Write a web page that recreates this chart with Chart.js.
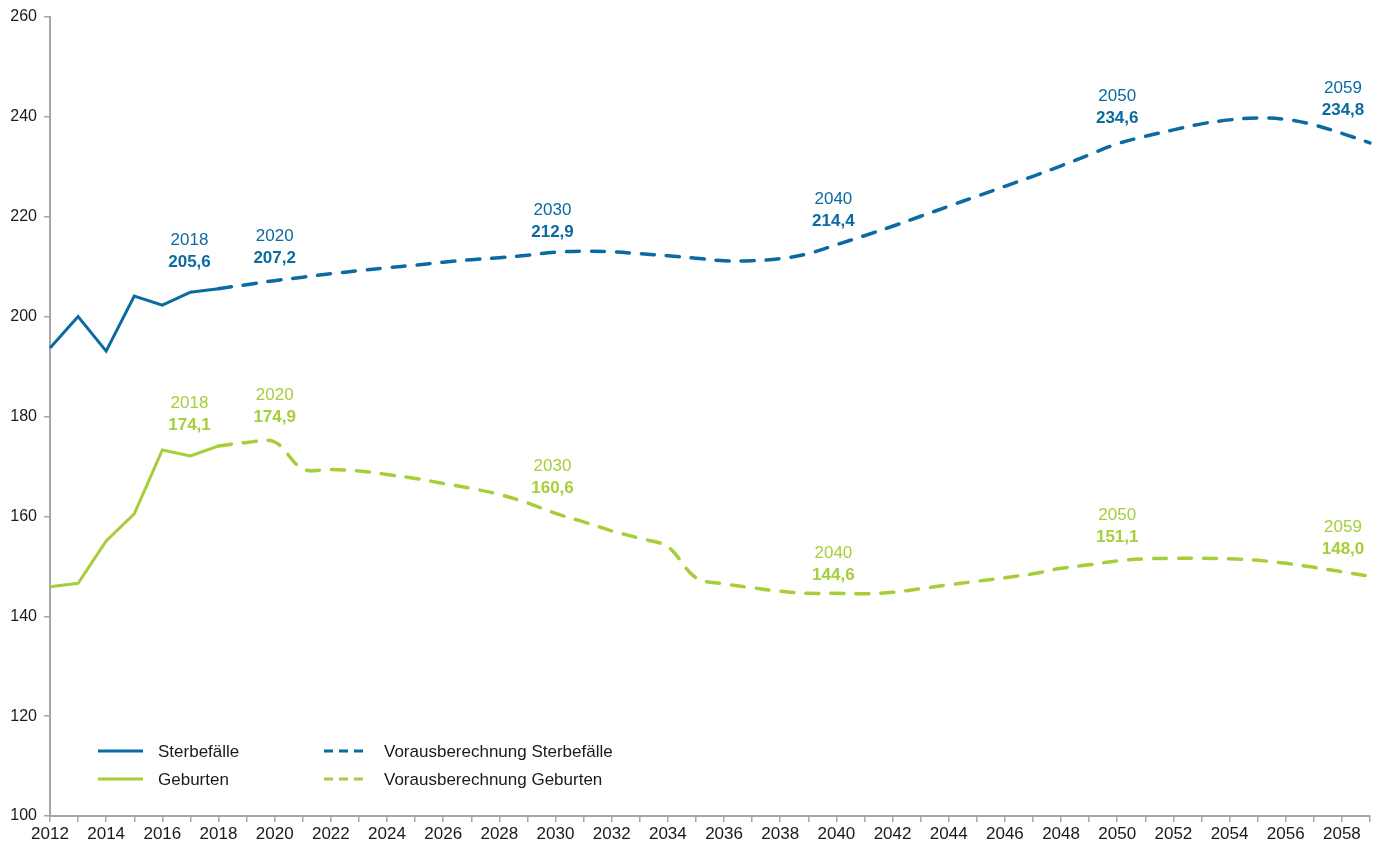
<!DOCTYPE html>
<html>
<head>
<meta charset="utf-8">
<script src="https://cdn.jsdelivr.net/npm/chart.js@4.4.1/dist/chart.umd.min.js"></script>
<style>
  html, body { margin: 0; padding: 0; background: #fff; }
  #wrap { width: 1383px; height: 843px; }
</style>
</head>
<body>
<div id="wrap"><canvas id="chart" width="1383" height="843"></canvas></div>
<script>
// years 2012 .. 2059
const years = [];
for (let y = 2012; y <= 2059; y++) years.push(String(y));

// Sterbefälle (actual, 2012-2018)
const deathsActual = [193.7, 200.0, 193.1, 204.1, 202.3, 204.9, 205.6];
// Vorausberechnung Sterbefälle (2018-2059)
const deathsForecast = [
  205.6, 206.4, 207.2, 207.9, 208.6, 209.2, 209.8, 210.3, 210.9, 211.4,
  211.8, 212.3, 212.9, 213.1, 213.0, 212.6, 212.2, 211.7, 211.2, 211.2,
  211.6, 212.6, 214.4, 216.2, 218.1, 220.1, 222.1, 224.1, 226.1, 228.1,
  230.2, 232.4, 234.6, 236.1, 237.4, 238.6, 239.4, 239.8, 239.5, 238.4,
  236.7, 234.8
];
// Geburten (actual, 2012-2018)
const birthsActual = [145.9, 146.6, 155.1, 160.5, 173.3, 172.1, 174.1];
// Vorausberechnung Geburten (2018-2059)
const birthsForecast = [
  174.1, 174.8, 174.9, 169.5, 169.4, 169.1, 168.4, 167.6, 166.6, 165.6,
  164.4, 162.7, 160.6, 158.9, 157.1, 155.6, 153.9, 147.7, 146.5, 145.7,
  145.0, 144.6, 144.6, 144.5, 144.8, 145.5, 146.3, 147.0, 147.7, 148.5,
  149.6, 150.3, 151.1, 151.5, 151.6, 151.6, 151.5, 151.2, 150.6, 149.8,
  148.9, 148.0
];

const yTicks = [100, 120, 140, 160, 180, 200, 220, 240, 260];
const labelYears = ['2018', '2020', '2030', '2040', '2050', '2059'];

const BLUE = '#0a6aa1';
const GREEN = '#a6ce39';
const AXIS = '#a6a6a6';
const TEXT = '#1a1a1a';
const FONT = '"Liberation Sans", Arial, sans-serif';

const startIdx = years.indexOf('2018');
const pad = (arr, before, total) => {
  const out = new Array(total).fill(null);
  arr.forEach((v, i) => { out[before + i] = v; });
  return out;
};

// label placement (px): horizontal shift, lift above point for value and year
const labelPlace = {
  '2018': { dx: -29, blue: 26, green: 21 },
  '2020': { dx: 0, blue: 22, green: 25 },
  '2030': { dx: -3, blue: 20, green: 25 },
  '2040': { dx: -3, blue: 23, green: 18 },
  '2050': { dx: 0, blue: 26, green: 24 },
  '2059': { dx: -27, blue: 33, green: 27 }
};

const fmt = v => v.toFixed(1).replace('.', ',');

const valueLabels = {
  id: 'valueLabels',
  afterDatasetsDraw(chart) {
    const { ctx, scales: { x, y } } = chart;
    const series = [
      { data: chart.data.datasets[2].data, color: BLUE, key: 'blue' },
      { data: chart.data.datasets[3].data, color: GREEN, key: 'green' }
    ];
    ctx.save();
    ctx.textAlign = 'center';
    ctx.textBaseline = 'middle';
    series.forEach(s => {
      labelYears.forEach(yr => {
        const i = years.indexOf(yr);
        const v = s.data[i];
        const p = labelPlace[yr];
        const px = x.getPixelForValue(i) + p.dx;
        const py = y.getPixelForValue(v) - p[s.key];
        ctx.fillStyle = s.color;
        ctx.font = 'bold 17px ' + FONT;
        ctx.fillText(fmt(v), px, py);
        ctx.font = '17px ' + FONT;
        ctx.fillText(yr, px, py - 22);
      });
    });
    ctx.restore();
  }
};

const innerLegend = {
  id: 'innerLegend',
  afterDraw(chart) {
    const { ctx, chartArea } = chart;
    const ds = chart.data.datasets;
    const cols = [chartArea.left + 48, chartArea.left + 274];
    const rows = [chartArea.bottom - 65, chartArea.bottom - 37];
    const order = [[0, 0, 0], [1, 0, 1], [2, 1, 0], [3, 1, 1]];
    ctx.save();
    order.forEach(([d, c, r]) => {
      const lx = cols[c], ly = rows[r];
      ctx.strokeStyle = ds[d].borderColor;
      ctx.lineWidth = 3;
      ctx.setLineDash(ds[d].borderDash && ds[d].borderDash.length ? [9, 6] : []);
      ctx.beginPath();
      ctx.moveTo(lx, ly);
      ctx.lineTo(lx + 45, ly);
      ctx.stroke();
      ctx.setLineDash([]);
      ctx.fillStyle = TEXT;
      ctx.font = '17px ' + FONT;
      ctx.textAlign = 'left';
      ctx.textBaseline = 'middle';
      ctx.fillText(ds[d].label, lx + 60, ly + 1);
    });
    ctx.restore();
  }
};

new Chart(document.getElementById('chart'), {
  type: 'line',
  data: {
    labels: years,
    datasets: [{
      label: 'Sterbefälle',
      data: pad(deathsActual, 0, years.length),
      borderColor: BLUE,
      borderWidth: 3,
      tension: 0,
      pointRadius: 0
    }, {
      label: 'Geburten',
      data: pad(birthsActual, 0, years.length),
      borderColor: GREEN,
      borderWidth: 3,
      tension: 0,
      pointRadius: 0
    }, {
      label: 'Vorausberechnung Sterbefälle',
      data: pad(deathsForecast, startIdx, years.length),
      borderColor: BLUE,
      borderWidth: 3.5,
      borderDash: [13, 12],
      borderCapStyle: 'round',
      tension: 0.35,
      pointRadius: 0
    }, {
      label: 'Vorausberechnung Geburten',
      data: pad(birthsForecast, startIdx, years.length),
      borderColor: GREEN,
      borderWidth: 3.5,
      borderDash: [13, 12],
      borderCapStyle: 'round',
      tension: 0.35,
      pointRadius: 0
    }]
  },
  options: {
    responsive: false,
    animation: false,
    layout: { padding: { top: 17, right: 13, left: 0, bottom: 0 } },
    plugins: {
      legend: { display: false },
      tooltip: { enabled: false }
    },
    scales: {
      x: {
        offset: false,
        border: { color: AXIS, width: 2 },
        grid: { drawOnChartArea: false, drawTicks: true, tickLength: 6, color: AXIS, lineWidth: 1.5 },
        ticks: {
          autoSkip: false,
          maxRotation: 0,
          padding: 2,
          color: TEXT,
          font: { family: FONT, size: 17 },
          callback: function (val, i) {
            const lbl = this.getLabelForValue(val);
            return Number(lbl) % 2 === 0 ? lbl : '';
          }
        },
        afterFit(scale) { scale.height = 27; }
      },
      y: {
        min: yTicks[0],
        max: yTicks[yTicks.length - 1],
        border: { color: AXIS, width: 2 },
        grid: { drawOnChartArea: false, drawTicks: true, tickLength: 6, color: AXIS, lineWidth: 1.5 },
        afterBuildTicks(scale) { scale.ticks = yTicks.map(v => ({ value: v })); },
        ticks: {
          padding: 7,
          color: TEXT,
          font: { family: FONT, size: 16 }
        },
        afterFit(scale) { scale.width = 50; }
      }
    }
  },
  plugins: [valueLabels, innerLegend]
});
</script>
</body>
</html>
